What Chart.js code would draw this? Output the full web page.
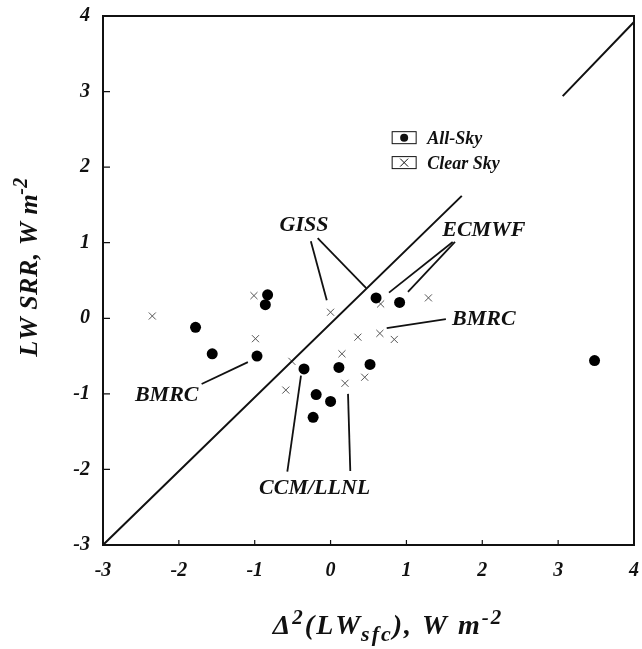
<!DOCTYPE html>
<html>
<head>
<meta charset="utf-8">
<script src="https://cdn.jsdelivr.net/npm/chart.js@4"></script>
<style>
  html, body { margin: 0; padding: 0; background: #fff; }
  #wrap { width: 642px; height: 649px; }
</style>
</head>
<body>
<div id="wrap"><canvas id="chart" width="642" height="649"></canvas></div>
<script>
// values
const allSkyX = [-1.78, -1.56, -0.97, -0.83, -0.86, -0.35, -0.19, -0.23, 0.00, 0.11, 0.52, 0.60, 0.91, 3.48];
const allSkyY = [-0.12, -0.47, -0.50, 0.31, 0.18, -0.67, -1.01, -1.31, -1.10, -0.65, -0.61, 0.27, 0.21, -0.56];
const clearX = [-2.35, -1.01, -0.99, -0.51, -0.59, 0.00, 0.66, 1.29, 0.36, 0.65, 0.84, 0.15, 0.45, 0.19];
const clearY = [0.03, 0.30, -0.27, -0.57, -0.95, 0.08, 0.19, 0.27, -0.25, -0.20, -0.28, -0.47, -0.78, -0.86];
const tickValues = [-3, -2, -1, 0, 1, 2, 3, 4];
const legendLabels = ["All-Sky", "Clear Sky"];

// 1:1 reference line, broken where it passes the legend
const refLine = [[-3, -3], [1.73, 1.62], null, [3.06, 2.94], [4, 3.92]];

// model labels with their pointer lines (data units)
const notes = [
    { text: "GISS", at: [-0.35, 1.23], lines: [[[-0.26, 1.02], [-0.05, 0.24]], [[-0.17, 1.06], [0.47, 0.40]]] },
    { text: "ECMWF", at: [2.02, 1.17], lines: [[[1.61, 1.01], [0.77, 0.34]], [[1.64, 1.01], [1.02, 0.35]]] },
    { text: "BMRC", at: [2.02, -0.02], lines: [[[1.52, -0.01], [0.74, -0.13]]] },
    { text: "BMRC", at: [-2.16, -1.02], lines: [[[-1.70, -0.87], [-1.09, -0.58]]] },
    { text: "CCM/LLNL", at: [-0.21, -2.25], lines: [[[-0.57, -2.03], [-0.39, -0.76]], [[0.26, -2.02], [0.23, -1.00]]] }
];

const serif = "'Liberation Serif', 'Times New Roman', serif";

function toPoints(xs, ys) {
    return xs.map((x, i) => ({ x: x, y: ys[i] }));
}

// draw a run of text pieces, some raised or lowered, centred on x
function drawRich(ctx, parts, x, y, size, gap) {
    let total = 0;
    parts.forEach(p => {
        ctx.font = "italic bold " + Math.round(size * (p.s || 1)) + "px " + serif;
        p.w = ctx.measureText(p.t).width + (gap || 0) * p.t.length;
        total += p.w;
    });
    let cx = x - total / 2;
    parts.forEach(p => {
        ctx.font = "italic bold " + Math.round(size * (p.s || 1)) + "px " + serif;
        let lx = cx;
        for (const ch of p.t) {
            ctx.fillText(ch, lx, y + (p.dy || 0));
            lx += ctx.measureText(ch).width + (gap || 0);
        }
        cx += p.w;
    });
}

const decor = {
    id: "decor",
    afterDraw(chart) {
        const ctx = chart.ctx;
        const a = chart.chartArea;
        const xs = chart.scales.x, ys = chart.scales.y;
        const px = v => xs.getPixelForValue(v);
        const py = v => ys.getPixelForValue(v);

        ctx.save();
        ctx.strokeStyle = "#111";
        ctx.fillStyle = "#111";

        // frame
        ctx.lineWidth = 2;
        ctx.strokeRect(a.left, a.top, a.right - a.left, a.bottom - a.top);

        // inward ticks on bottom and left
        ctx.lineWidth = 1.2;
        tickValues.forEach(v => {
            ctx.beginPath();
            ctx.moveTo(px(v), a.bottom);
            ctx.lineTo(px(v), a.bottom - 5);
            ctx.moveTo(a.left, py(v));
            ctx.lineTo(a.left + 7, py(v));
            ctx.stroke();
        });

        // pointer lines and labels
        ctx.lineWidth = 1.8;
        ctx.textAlign = "center";
        ctx.textBaseline = "middle";
        ctx.font = "italic bold 22px " + serif;
        notes.forEach(n => {
            n.lines.forEach(l => {
                ctx.beginPath();
                ctx.moveTo(px(l[0][0]), py(l[0][1]));
                ctx.lineTo(px(l[1][0]), py(l[1][1]));
                ctx.stroke();
            });
            ctx.fillText(n.text, px(n.at[0]), py(n.at[1]));
        });

        // legend
        const lx = px(0.97), ly = [py(2.39), py(2.06)];
        ctx.lineWidth = 1;
        ctx.textAlign = "left";
        ctx.font = "italic bold 18px " + serif;
        ly.forEach((y, i) => {
            ctx.strokeRect(lx - 12, y - 6, 24, 12);
            if (i === 0) {
                ctx.beginPath();
                ctx.arc(lx, y, 4, 0, Math.PI * 2);
                ctx.fill();
            } else {
                ctx.beginPath();
                ctx.moveTo(lx - 4, y - 4); ctx.lineTo(lx + 4, y + 4);
                ctx.moveTo(lx + 4, y - 4); ctx.lineTo(lx - 4, y + 4);
                ctx.stroke();
            }
            ctx.fillText(legendLabels[i], lx + 23, y + 2);
        });

        // axis titles
        ctx.textAlign = "left";
        ctx.textBaseline = "alphabetic";
        drawRich(ctx, [
            { t: "\u0394" },
            { t: "2", s: 0.75, dy: -10 },
            { t: "(LW" },
            { t: "sfc", s: 0.8, dy: 7 },
            { t: "), W m" },
            { t: "-2", s: 0.75, dy: -10 }
        ], 388, 634, 28, 2);

        ctx.translate(37, 267);
        ctx.rotate(-Math.PI / 2);
        drawRich(ctx, [
            { t: "LW SRR, W m" },
            { t: "-2", s: 0.75, dy: -10 }
        ], 0, 0, 26, 0.5);
        ctx.restore();
    }
};

const tickFont = { family: serif, size: 20, style: "italic", weight: "bold" };

new Chart(document.getElementById("chart"), {
    type: "scatter",
    data: {
        datasets: [
            {
                label: "1:1",
                data: refLine.map(p => p ? { x: p[0], y: p[1] } : { x: null, y: null }),
                showLine: true,
                spanGaps: false,
                borderColor: "#111",
                borderWidth: 2,
                pointRadius: 0
            },
            {
                label: legendLabels[0],
                data: toPoints(allSkyX, allSkyY),
                pointStyle: "circle",
                pointRadius: 5.5,
                backgroundColor: "#000",
                borderColor: "#000",
                borderWidth: 0
            },
            {
                label: legendLabels[1],
                data: toPoints(clearX, clearY),
                pointStyle: "crossRot",
                pointRadius: 5,
                borderColor: "#555",
                borderWidth: 1
            }
        ]
    },
    options: {
        responsive: false,
        animation: false,
        layout: { padding: { left: 0, right: 8, top: 16, bottom: 0 } },
        plugins: {
            legend: { display: false },
            tooltip: { enabled: false }
        },
        scales: {
            x: {
                type: "linear",
                min: -3,
                max: 4,
                afterFit: s => { s.height = 104; },
                afterBuildTicks: s => { s.ticks = tickValues.map(v => ({ value: v })); },
                grid: { display: false, drawTicks: true, tickLength: 14 },
                border: { display: false },
                ticks: { padding: 0, color: "#111", font: tickFont }
            },
            y: {
                type: "linear",
                min: -3,
                max: 4,
                afterFit: s => { s.width = 103; },
                afterBuildTicks: s => { s.ticks = tickValues.map(v => ({ value: v })); },
                grid: { display: false, drawTicks: true, tickLength: 13 },
                border: { display: false },
                ticks: { padding: 0, color: "#111", font: tickFont }
            }
        }
    },
    plugins: [decor]
});
</script>
</body>
</html>
